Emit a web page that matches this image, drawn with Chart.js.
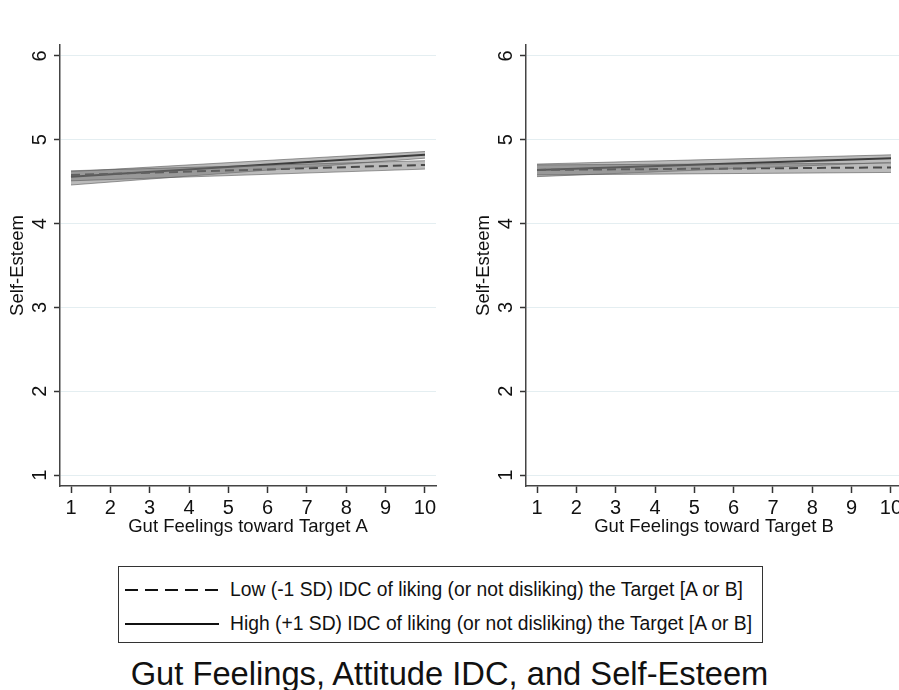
<!DOCTYPE html>
<html>
<head>
<meta charset="utf-8">
<script src="https://cdn.jsdelivr.net/npm/chart.js@4"></script>
<style>
  html, body { margin: 0; padding: 0; background: #fff; overflow: hidden; }
  body { width: 899px; height: 690px; position: relative; font-family: "Liberation Sans", Arial, sans-serif; }
  .panel { position: absolute; top: 0; width: 450px; height: 545px; }
  #legend { position: absolute; left: 118px; top: 566px; width: 645px; height: 77px; border: 1px solid #333; box-sizing: border-box; }
  .row { position: absolute; left: 6px; height: 22px; display: flex; align-items: center; font-size: 19.3px; color: #111; white-space: nowrap; }
  .row svg { margin-right: 11px; }
  #title { position: absolute; left: 0; width: 899px; top: 655px; text-align: center; font-size: 32.7px; color: #111; }
</style>
</head>
<body>
<div class="panel" style="left:0px"><canvas id="chartA" width="450" height="545"></canvas></div>
<div class="panel" style="left:466px"><canvas id="chartB" width="450" height="545"></canvas></div>

<div id="legend">
  <div class="row" style="top:12px">
    <svg width="94" height="4"><line x1="0" y1="2" x2="94" y2="2" stroke="#111" stroke-width="2" stroke-dasharray="13,7"/></svg>
    Low (-1 SD) IDC of liking (or not disliking) the Target [A or B]
  </div>
  <div class="row" style="top:46px">
    <svg width="94" height="4"><line x1="0" y1="2" x2="94" y2="2" stroke="#111" stroke-width="2"/></svg>
    High (+1 SD) IDC of liking (or not disliking) the Target [A or B]
  </div>
</div>
<div id="title">Gut Feelings, Attitude IDC, and Self-Esteem</div>

<script>
  // axis ticks
  const xTicks = [1, 2, 3, 4, 5, 6, 7, 8, 9, 10];
  const yTicks = [1, 2, 3, 4, 5, 6];

  // predicted values at the ends of the gut feelings range
  const xEnds = [1, 10];

  // Target A
  const lowA = [4.58, 4.70];
  const lowA_lo = [4.51, 4.65];
  const lowA_hi = [4.63, 4.75];
  const highA = [4.56, 4.82];
  const highA_lo = [4.46, 4.78];
  const highA_hi = [4.62, 4.86];

  // Target B
  const lowB = [4.64, 4.67];
  const lowB_lo = [4.58, 4.61];
  const lowB_hi = [4.70, 4.72];
  const highB = [4.64, 4.78];
  const highB_lo = [4.56, 4.73];
  const highB_hi = [4.71, 4.82];

  const FONT = '"Liberation Sans", Arial, sans-serif';

  function pts(vals) {
    return vals.map((v, i) => ({ x: xEnds[i], y: v }));
  }

  // Stata style y labels, turned on their side
  const rotatedYTicks = {
    id: 'rotatedYTicks',
    afterDraw(chart) {
      const y = chart.scales.y;
      const ctx = chart.ctx;
      ctx.save();
      ctx.font = '20px ' + FONT;
      ctx.fillStyle = '#111';
      ctx.textAlign = 'center';
      ctx.textBaseline = 'middle';
      yTicks.forEach(v => {
        ctx.save();
        ctx.translate(y.right - 20, y.getPixelForValue(v));
        ctx.rotate(-Math.PI / 2);
        ctx.fillText(String(v), 0, 0);
        ctx.restore();
      });
      ctx.restore();
    }
  };

  function band(lo, hi) {
    return [
      { data: pts(lo), borderColor: 'rgba(90,90,90,0.6)', borderWidth: 1, pointRadius: 0, fill: false },
      { data: pts(hi), borderColor: 'rgba(90,90,90,0.6)', borderWidth: 1, pointRadius: 0,
        fill: '-1', backgroundColor: 'rgba(120,120,120,0.5)' }
    ];
  }

  function makeChart(id, xTitle, low, lowLo, lowHi, high, highLo, highHi) {
    const ctx = document.getElementById(id).getContext('2d');
    new Chart(ctx, {
      type: 'line',
      data: {
        datasets: [
          ...band(lowLo, lowHi),
          ...band(highLo, highHi),
          { data: pts(low), borderColor: '#1a1a1a', borderWidth: 2, borderDash: [9, 5], pointRadius: 0, fill: false },
          { data: pts(high), borderColor: '#000', borderWidth: 2, pointRadius: 0, fill: false }
        ]
      },
      options: {
        responsive: false,
        animation: false,
        layout: { padding: { left: 0, right: 14, top: 45, bottom: 0 } },
        plugins: { legend: { display: false }, tooltip: { enabled: false } },
        scales: {
          x: {
            type: 'linear',
            min: 0.72,
            max: 10.28,
            afterBuildTicks: s => { s.ticks = xTicks.map(v => ({ value: v })); },
            afterFit: s => { s.height = 59; },
            grid: { drawOnChartArea: false, drawTicks: true, tickLength: 7, tickColor: '#333', tickWidth: 1.5 },
            border: { color: '#444', width: 1.5 },
            ticks: { color: '#111', font: { family: FONT, size: 20 }, padding: 3, maxRotation: 0 },
            title: { display: true, text: xTitle, color: '#111', font: { family: FONT, size: 18.5 }, padding: { top: 0, bottom: 7 } }
          },
          y: {
            type: 'linear',
            min: 0.87,
            max: 6.13,
            afterBuildTicks: s => { s.ticks = yTicks.map(v => ({ value: v })); },
            afterFit: s => { s.width = 60; },
            grid: { color: '#e4eef1', lineWidth: 1, drawTicks: true, tickLength: 6, tickColor: '#333', tickWidth: 1.5 },
            border: { color: '#444', width: 1.5 },
            ticks: { display: false },
            title: { display: true, text: 'Self-Esteem', color: '#111', font: { family: FONT, size: 18.5 }, padding: { top: 7, bottom: 0 } }
          }
        }
      },
      plugins: [rotatedYTicks]
    });
  }

  makeChart('chartA', 'Gut Feelings toward Target A', lowA, lowA_lo, lowA_hi, highA, highA_lo, highA_hi);
  makeChart('chartB', 'Gut Feelings toward Target B', lowB, lowB_lo, lowB_hi, highB, highB_lo, highB_hi);
</script>
</body>
</html>
